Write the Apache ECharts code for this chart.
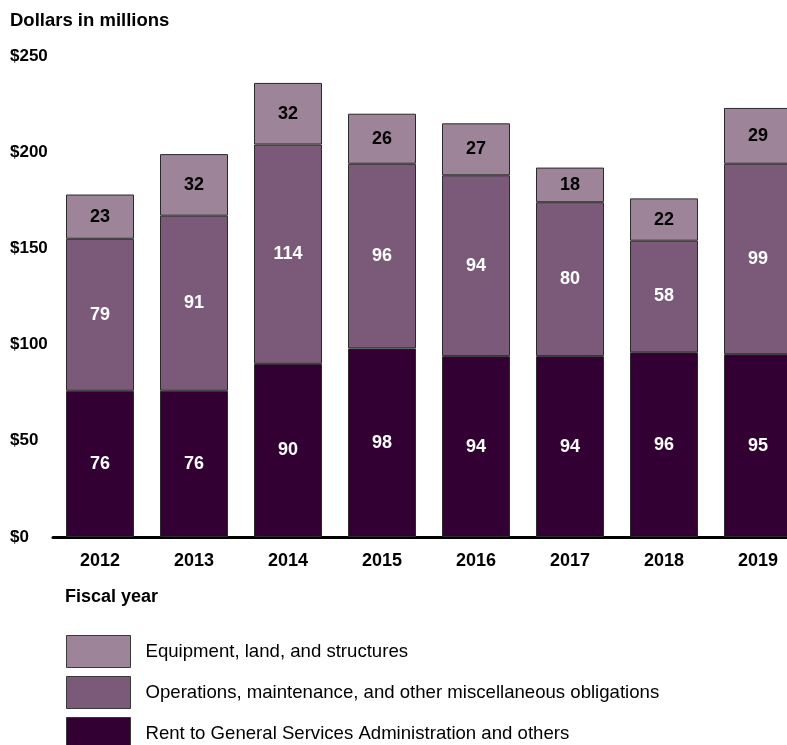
<!DOCTYPE html>
<html>
<head>
<meta charset="utf-8">
<script src="https://cdn.jsdelivr.net/npm/echarts@6/dist/echarts.min.js"></script>
<style>
  html, body { margin: 0; padding: 0; background: #fff; }
  #chart { width: 787px; height: 745px; }
</style>
</head>
<body>
<div id="chart"></div>
<script>
const years = ['2012', '2013', '2014', '2015', '2016', '2017', '2018', '2019'];
const rent = [76, 76, 90, 98, 94, 94, 96, 95];
const operations = [79, 91, 114, 96, 94, 80, 58, 99];
const equipment = [23, 32, 32, 26, 27, 18, 22, 29];
const yTicks = [0, 50, 100, 150, 200, 250];

const names = {
  equipment: 'Equipment, land, and structures',
  operations: 'Operations, maintenance, and other miscellaneous obligations',
  rent: 'Rent to General Services Administration and others',
};

const FONT = '"Liberation Sans", Arial, sans-serif';

const makeSeries = (name, data, color, labelColor) => ({
  name,
  type: 'bar',
  stack: 'total',
  data,
  barWidth: 68,
  itemStyle: {
    color,
    borderColor: '#2a2a2a',
    borderWidth: 1,
  },
  label: {
    show: true,
    position: 'inside',
    color: labelColor,
    fontFamily: FONT,
    fontWeight: 'bold',
    fontSize: 18,
  },
});

const chart = echarts.init(document.getElementById('chart'));
chart.setOption({
  animation: false,
  textStyle: { fontFamily: FONT },
  title: {
    text: 'Dollars in millions',
    left: 10,
    top: 11,
    padding: 0,
    textStyle: { fontFamily: FONT, fontWeight: 'bold', fontSize: 18.5, color: '#000' },
  },
  graphic: [{
    type: 'text',
    left: 65,
    top: 588,
    style: { text: 'Fiscal year', font: 'bold 18px "Liberation Sans", Arial, sans-serif', fill: '#000' },
  }],
  grid: { left: 53, width: 752, top: 56, bottom: 208, outerBoundsMode: 'none' },
  xAxis: {
    type: 'category',
    data: years,
    axisLine: { lineStyle: { color: '#000', width: 3 } },
    axisTick: { show: false },
    axisLabel: { margin: 15, color: '#000', fontWeight: 'bold', fontSize: 18, fontFamily: FONT },
  },
  yAxis: {
    type: 'value',
    min: yTicks[0],
    max: yTicks[yTicks.length - 1],
    interval: 50,
    splitLine: { show: false },
    axisLine: { show: false },
    axisTick: { show: false },
    axisLabel: {
      align: 'left',
      margin: 43,
      color: '#000',
      fontWeight: 'bold',
      fontSize: 17,
      fontFamily: FONT,
      formatter: (v) => '$' + v,
    },
  },
  legend: {
    orient: 'vertical',
    left: 66,
    top: 635,
    height: 200,
    padding: 0,
    itemWidth: 64,
    itemHeight: 32,
    itemGap: 8,
    icon: 'rect',
    selectedMode: false,
    data: [names.equipment, names.operations, names.rent],
    itemStyle: { borderColor: '#3a3a3a', borderWidth: 1 },
    textStyle: { fontFamily: FONT, fontSize: 18.6, color: '#000', padding: [0, 0, 0, 10] },
  },
  series: [
    makeSeries(names.rent, rent, '#330033', '#fff'),
    makeSeries(names.operations, operations, '#7b5a79', '#fff'),
    makeSeries(names.equipment, equipment, '#9e8499', '#000'),
  ],
});
</script>
</body>
</html>
